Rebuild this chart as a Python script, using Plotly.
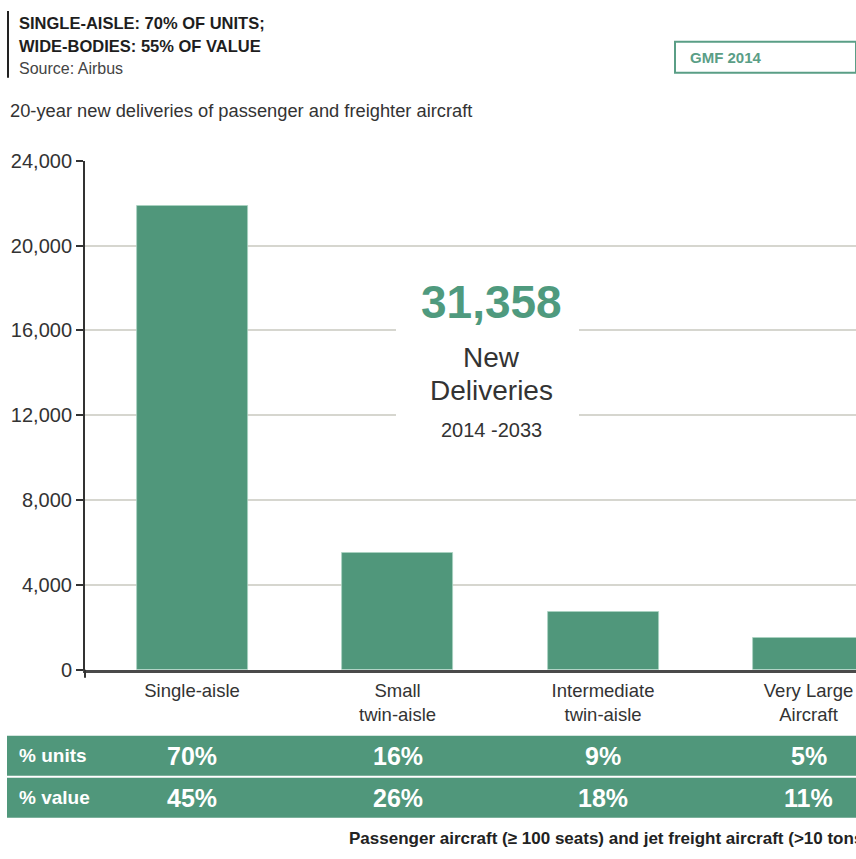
import plotly.graph_objects as go

# ---------------- data ----------------
categories = ["Single-aisle", "Small<br>twin-aisle", "Intermediate<br>twin-aisle", "Very Large<br>Aircraft"]
deliveries = [21900, 5530, 2740, 1510]
pct_units = ["70%", "16%", "9%", "5%"]
pct_value = ["45%", "26%", "18%", "11%"]
y_ticks = [0, 4000, 8000, 12000, 16000, 20000, 24000]
total_label = "31,358"

W, H = 856, 859
# the captured picture maps page y to 11.3 + 0.973*y; positions below are given in picture pixels
V_OFF, V_SCALE = 11.3, 0.973
FONT = "Liberation Sans, Arial, Helvetica, sans-serif"
GREEN = "#50977b"
DARK = "#333333"


def px(x):
    return x / W


def py(y):
    page = (y - V_OFF) / V_SCALE
    return min(1.0, max(0.0, 1 - page / H))


fig = go.Figure()
fig.add_trace(go.Bar(
    x=categories, y=deliveries, width=0.54,
    marker=dict(color=GREEN, line=dict(color="#a9d2c2", width=0.8)),
    hoverinfo="skip", showlegend=False,
))

shapes = []
annotations = []

# header left rule
shapes.append(dict(type="line", xref="paper", yref="paper", x0=px(8), x1=px(8), y0=py(8), y1=py(78),
                   line=dict(color="#222222", width=2)))
annotations += [
    dict(text="<b>SINGLE-AISLE: 70% OF UNITS;</b>", x=px(17), y=py(23), xref="paper", yref="paper",
         xanchor="left", yanchor="middle", showarrow=False, font=dict(family=FONT, size=16.5, color="#1e1e1e")),
    dict(text="<b>WIDE-BODIES: 55% OF VALUE</b>", x=px(17), y=py(46), xref="paper", yref="paper",
         xanchor="left", yanchor="middle", showarrow=False, font=dict(family=FONT, size=16.5, color="#1e1e1e")),
    dict(text="Source: Airbus", x=px(17), y=py(69), xref="paper", yref="paper",
         xanchor="left", yanchor="middle", showarrow=False, font=dict(family=FONT, size=16, color="#444444")),
    dict(text="20-year new deliveries of passenger and freighter aircraft", x=px(8), y=py(111),
         xref="paper", yref="paper", xanchor="left", yanchor="middle", showarrow=False,
         font=dict(family=FONT, size=18.3, color=DARK)),
]

# GMF box
shapes.append(dict(type="rect", xref="paper", yref="paper", x0=px(675), x1=px(856), y0=py(73), y1=py(42),
                   line=dict(color="#5a9e86", width=2), fillcolor="white"))
annotations.append(dict(text="<b>GMF 2014</b>", x=px(688), y=py(58), xref="paper", yref="paper",
                        xanchor="left", yanchor="middle", showarrow=False,
                        font=dict(family=FONT, size=15, color="#5a9e86")))

# center callout box
shapes.append(dict(type="rect", xref="paper", yref="paper", x0=px(396), x1=px(579), y0=py(448), y1=py(262),
                   line=dict(width=0), fillcolor="white", layer="above"))
annotations += [
    dict(text="<b>" + total_label + "</b>", x=px(491), y=py(302), xref="paper", yref="paper",
         xanchor="center", yanchor="middle", showarrow=False, font=dict(family=FONT, size=46, color="#4f9a7e")),
    dict(text="New", x=px(491), y=py(357), xref="paper", yref="paper",
         xanchor="center", yanchor="middle", showarrow=False, font=dict(family=FONT, size=28, color=DARK)),
    dict(text="Deliveries", x=px(491), y=py(390), xref="paper", yref="paper",
         xanchor="center", yanchor="middle", showarrow=False, font=dict(family=FONT, size=28, color=DARK)),
    dict(text="2014 -2033", x=px(491), y=py(430), xref="paper", yref="paper",
         xanchor="center", yanchor="middle", showarrow=False, font=dict(family=FONT, size=20, color=DARK)),
]

# y axis extension below baseline
shapes.append(dict(type="line", xref="paper", yref="paper", x0=px(85), x1=px(85), y0=py(669), y1=py(677),
                   line=dict(color=DARK, width=2)))

# table rows
for (top, bot) in [(735, 775), (777, 817)]:
    shapes.append(dict(type="rect", xref="paper", yref="paper", x0=px(7), x1=px(856), y0=py(bot), y1=py(top),
                       line=dict(width=0), fillcolor=GREEN))
row_specs = [("% units", pct_units, 755), ("% value", pct_value, 797)]
for label, vals, yc in row_specs:
    annotations.append(dict(text="<b>" + label + "</b>", x=px(17), y=py(yc), xref="paper", yref="paper",
                            xanchor="left", yanchor="middle", showarrow=False,
                            font=dict(family=FONT, size=19, color="white")))
    for cat, v in zip(categories, vals):
        annotations.append(dict(text="<b>" + v + "</b>", x=cat, y=py(yc), xref="x", yref="paper",
                                xanchor="center", yanchor="middle", showarrow=False,
                                font=dict(family=FONT, size=25, color="white")))

# footnote (kept at the lowest position still fully visible)
annotations.append(dict(text="<b>Passenger aircraft (\u2265 100 seats) and jet freight aircraft (>10 tons)</b>",
                        x=px(348), y=0, xref="paper", yref="paper", xanchor="left", yanchor="bottom",
                        borderpad=0, yshift=-1,
                        showarrow=False, font=dict(family=FONT, size=17, color="#222222")))

fig.update_layout(
    width=W, height=H,
    margin=dict(l=0, r=0, t=0, b=0, pad=0),
    paper_bgcolor="white", plot_bgcolor="white",
    bargap=0,
    shapes=shapes, annotations=annotations,
    xaxis=dict(
        domain=[px(85), 1], range=[-0.521, 3.231], type="category",
        showline=True, linecolor="#4a4a4a", linewidth=2.5,
        ticks="", showgrid=False, zeroline=False,
        tickfont=dict(family=FONT, size=18.5, color=DARK),
        ticklabelstandoff=2,
        fixedrange=True,
    ),
    yaxis=dict(
        domain=[py(669), py(161)], range=[0, 24000],
        tickvals=y_ticks, tickformat=",d",
        showline=True, linecolor=DARK, linewidth=2,
        ticks="outside", ticklen=7, tickwidth=1.5, tickcolor=DARK,
        showgrid=True, gridcolor="#d6d6cf", gridwidth=1.5, zeroline=False,
        tickfont=dict(family=FONT, size=20, color=DARK),
        fixedrange=True,
    ),
)

fig.write_html(
    "out.html", config={"displayModeBar": False},
    post_script=("document.documentElement.style.margin='0';document.documentElement.style.padding='0';"
                 "document.body.style.margin='0';document.body.style.padding='0';"),
)
